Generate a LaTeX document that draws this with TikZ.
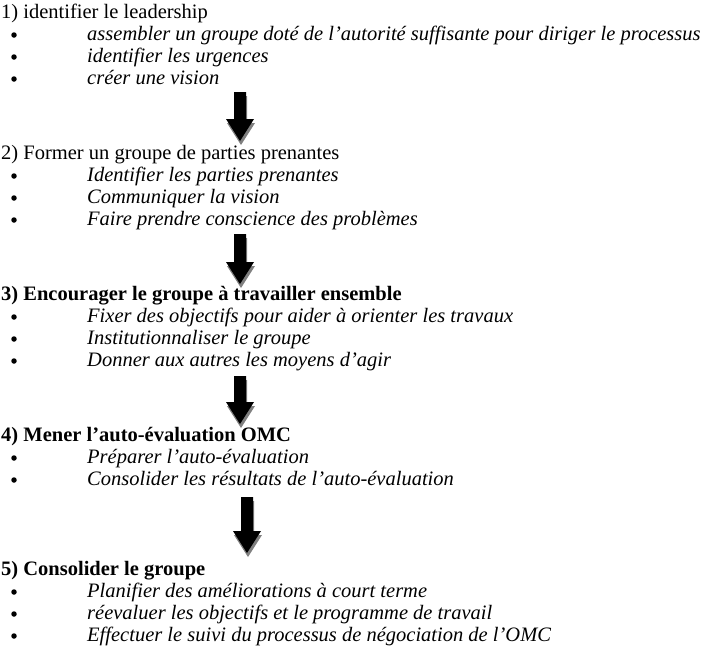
\documentclass[tikz,border=0pt]{standalone}
\usepackage{fontspec}
\setmainfont{Liberation Serif}
\tikzset{
  head/.style={anchor=base west, inner sep=0pt, font=\fontsize{20.5}{22}\selectfont},
  headb/.style={anchor=base west, inner sep=0pt, font=\fontsize{20.5}{22}\selectfont\bfseries},
  item/.style={anchor=base west, inner sep=0pt, font=\fontsize{20.5}{22}\selectfont\itshape},
  dot/.style={circle, fill=black, inner sep=0pt, minimum size=5.5pt},
  arrowbody/.style={fill=black},
  arrowshadow/.style={fill=black!50}
}
\newcommand\myarrow[3]{%
  \fill[arrowshadow] (#1-5,#2+4) -- (#1+7,#2+4) -- (#1+7,#3-18) -- (#1+15,#3-18) -- (#1+1,#3+4) -- (#1-13,#3-18) -- (#1-5,#3-18) -- cycle;
  \fill[arrowbody] (#1-6,#2) -- (#1+6,#2) -- (#1+6,#3-22) -- (#1+14,#3-22) -- (#1,#3) -- (#1-14,#3-22) -- (#1-6,#3-22) -- cycle;
}
\begin{document}
\begin{tikzpicture}[x=1pt,y=-1pt]
\useasboundingbox[fill=white] (0,0) rectangle (713,659);
% block 1
\node[head] (h1) at (1,18) {1) identifier le leadership};
\node[dot] (d11) at (14,35) {};
\node[item] (i11) at (87,40) {assembler un groupe doté de l’autorité suffisante pour diriger le processus};
\node[dot] (d12) at (14,57) {};
\node[item] (i12) at (87,62) {identifier les urgences};
\node[dot] (d13) at (14,79) {};
\node[item] (i13) at (87,84) {créer une vision};
\myarrow{240}{92}{141}
% block 2
\node[head] (h2) at (1,159) {2) Former un groupe de parties prenantes};
\node[dot] (d21) at (14,176) {};
\node[item] (i21) at (87,181) {Identifier les parties prenantes};
\node[dot] (d22) at (14,198) {};
\node[item] (i22) at (87,203) {Communiquer la vision};
\node[dot] (d23) at (14,220) {};
\node[item] (i23) at (87,225) {Faire prendre conscience des problèmes};
\myarrow{240}{234}{284}
% block 3
\node[headb] (h3) at (1,300) {3) Encourager le groupe à travailler ensemble};
\node[dot] (d31) at (14,317) {};
\node[item] (i31) at (87,322) {Fixer des objectifs pour aider à orienter les travaux};
\node[dot] (d32) at (14,339) {};
\node[item] (i32) at (87,344) {Institutionnaliser le groupe};
\node[dot] (d33) at (14,361) {};
\node[item] (i33) at (87,366) {Donner aux autres les moyens d’agir};
\myarrow{240}{376}{424}
% block 4
\node[headb] (h4) at (1,441) {4) Mener l’auto-évaluation OMC};
\node[dot] (d41) at (14,458) {};
\node[item] (i41) at (87,463) {Préparer l’auto-évaluation};
\node[dot] (d42) at (14,480) {};
\node[item] (i42) at (87,485) {Consolider les résultats de l’auto-évaluation};
\myarrow{247}{497}{553}
% block 5
\node[headb] (h5) at (1,575) {5) Consolider le groupe};
\node[dot] (d51) at (14,592) {};
\node[item] (i51) at (87,597) {Planifier des améliorations à court terme};
\node[dot] (d52) at (14,614) {};
\node[item] (i52) at (87,619) {réevaluer les objectifs et le programme de travail};
\node[dot] (d53) at (14,636) {};
\node[item] (i53) at (87,641) {Effectuer le suivi du processus de négociation de l’OMC};
\end{tikzpicture}
\end{document}
